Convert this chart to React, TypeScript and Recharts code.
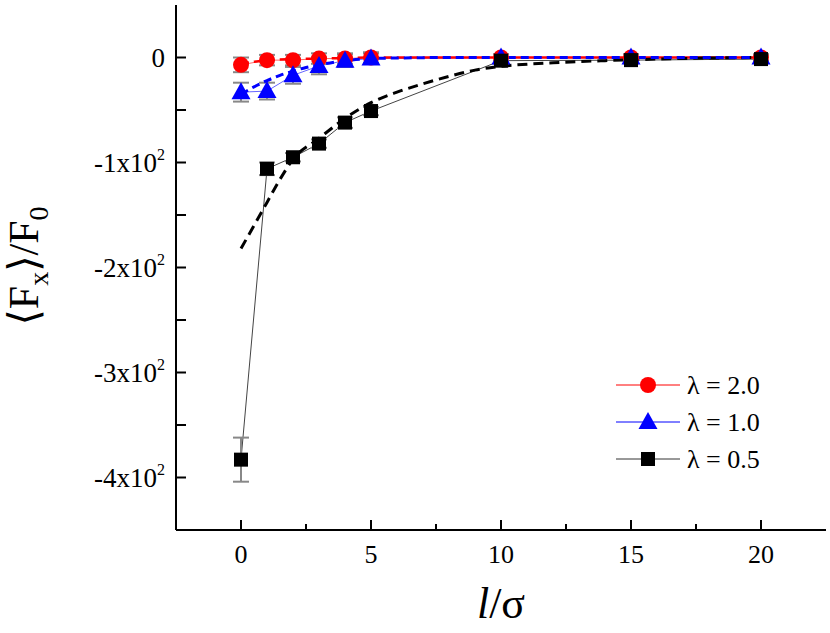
import React from "react";
import {
  ComposedChart,
  Line,
  Scatter,
  XAxis,
  YAxis,
  ErrorBar,
  Legend,
} from "recharts";

const X_VALUES = [0, 1, 2, 3, 4, 5, 10, 15, 20];
const LAMBDA_20 = [-7, -2.5, -2.5, -1, -1, 0, 0, 0, 0];
const ERR_20 = [7, 5, 5, 5, 5, 5, 3, 3, 3];
const LAMBDA_10 = [-33, -32, -17, -8, -3, -1, 0, 0, 0];
const ERR_10 = [9, 8, 8, 8, 6, 5, 3, 3, 3];
const LAMBDA_05 = [-383, -106, -95, -82, -62, -51, -3, -2.5, -1.5];
const ERR_05 = [21, 6, 4, 4, 5, 4, 3, 3, 3];

const FIT_X_05 = [0, 0.5, 1, 1.5, 2, 3, 4, 5, 6, 7, 8, 9, 10, 12, 14, 16, 18, 20];
const FIT_Y_05 = [-182, -160, -138, -116, -97, -77, -58, -43, -33, -25, -18, -12, -8.5, -5, -3, -1.5, -0.5, 0];
const FIT_X_10 = [0, 0.5, 1, 1.5, 2, 2.5, 3, 4, 5, 6, 8, 10, 15, 20];
const FIT_Y_10 = [-35, -28, -22, -17, -13, -9.5, -7, -3, -1, -0.5, 0, 0, 0, 0];
const FIT_X_20 = [0, 0.5, 1, 2, 3, 4, 5, 10, 15, 20];
const FIT_Y_20 = [-6, -4, -2.5, -1.5, -1, -0.5, 0, 0, 0, 0];

const X_TICKS = [0, 2.5, 5, 7.5, 10, 12.5, 15, 17.5, 20];
const Y_TICKS = [-400, -350, -300, -250, -200, -150, -100, -50, 0];
const LEGEND_LABELS = ["λ = 2.0", "λ = 1.0", "λ = 0.5"];

const FONT = "Liberation Serif, DejaVu Serif, serif";

const rows = (ys: number[], errs: number[]) =>
  X_VALUES.map((x, i) => ({ x, y: ys[i], err: errs[i] }));
const fitRows = (xs: number[], ys: number[]) => xs.map((x, i) => ({ x, y: ys[i] }));

const data20 = rows(LAMBDA_20, ERR_20);
const data10 = rows(LAMBDA_10, ERR_10);
const data05 = rows(LAMBDA_05, ERR_05);
const fit05 = fitRows(FIT_X_05, FIT_Y_05);
const fit10 = fitRows(FIT_X_10, FIT_Y_10);
const fit20 = fitRows(FIT_X_20, FIT_Y_20);

const Circle = (p: any) => <circle cx={p.cx} cy={p.cy} r={8} fill="#ff0000" />;
const Tri = (p: any) => (
  <polygon
    points={`${p.cx},${p.cy - 10} ${p.cx - 9.5},${p.cy + 7} ${p.cx + 9.5},${p.cy + 7}`}
    fill="#0000ff"
  />
);
const Square = (p: any) => (
  <rect x={p.cx - 7} y={p.cy - 7} width={14} height={14} fill="#000" />
);
const Empty = () => <g />;

const txt = { fontFamily: FONT, fill: "#000" } as React.CSSProperties;

const BottomTick = (p: any) => {
  const v = p.payload.value;
  const major = v % 5 === 0;
  return (
    <g>
      <line x1={p.x} y1={p.y} x2={p.x} y2={p.y - (major ? 10 : 6)} stroke="#000" strokeWidth={2} />
      {major && (
        <text x={p.x} y={p.y + 33} textAnchor="middle" fontSize={26} style={txt}>
          {v}
        </text>
      )}
    </g>
  );
};
const TopTick = (p: any) => {
  const v = p.payload.value;
  const major = v % 5 === 0;
  return <line x1={p.x} y1={p.y} x2={p.x} y2={p.y + (major ? 10 : 6)} stroke="#000" strokeWidth={2} />;
};
const LeftTick = (p: any) => {
  const v = p.payload.value;
  const major = v % 100 === 0;
  return (
    <g>
      <line x1={p.x} y1={p.y} x2={p.x + 10} y2={p.y} stroke="#000" strokeWidth={2} />
      {major && (
        <text x={p.x - 11} y={p.y + 9} textAnchor="end" fontSize={27} style={txt}>
          {v === 0 ? (
            "0"
          ) : (
            <>
              <tspan>{`${v / 100}x10`}</tspan>
              <tspan fontSize={16} dy={-12}>2</tspan>
            </>
          )}
        </text>
      )}
    </g>
  );
};
const RightTick = (p: any) => (
  <line x1={p.x} y1={p.y} x2={p.x - 10} y2={p.y} stroke="#000" strokeWidth={2} />
);

const YLabel = () => (
  <text
    transform="translate(38, 266) rotate(-90)"
    textAnchor="middle"
    fontSize={42}
    style={txt}
  >
    <tspan>⟨F</tspan>
    <tspan fontSize={28} dy={10}>x</tspan>
    <tspan dy={-10}>⟩/F</tspan>
    <tspan fontSize={28} dy={10}>0</tspan>
  </text>
);
const XLabel = () => (
  <text x={501} y={618} textAnchor="middle" fontSize={44} style={txt}>
    <tspan fontStyle="italic">l</tspan>
    <tspan>/σ</tspan>
  </text>
);

const LegendContent = () => {
  const colors = ["#ff0000", "#0000ff", "#000000"];
  const lineColors = ["#ff0000", "#0000ff", "#333333"];
  return (
    <svg width={220} height={120} style={{ display: "block" }}>
      {LEGEND_LABELS.map((lab, i) => {
        const cy = 20 + i * 37;
        const cx = 48;
        return (
          <g key={lab}>
            <line x1={16} y1={cy} x2={80} y2={cy} stroke={lineColors[i]} strokeWidth={1} />
            {i === 0 && <circle cx={cx} cy={cy} r={8} fill={colors[0]} />}
            {i === 1 && (
              <polygon points={`${cx},${cy - 10} ${cx - 9.5},${cy + 7} ${cx + 9.5},${cy + 7}`} fill={colors[1]} />
            )}
            {i === 2 && <rect x={cx - 7} y={cy - 7} width={14} height={14} fill={colors[2]} />}
            <text x={87} y={cy + 9} fontSize={26} style={txt}>
              {lab}
            </text>
          </g>
        );
      })}
    </svg>
  );
};

export default function App() {
  return (
    <div style={{ position: "absolute", left: 0, top: 0, width: 830, height: 633, background: "#fff", fontFamily: FONT }}>
      <ComposedChart width={830} height={633} margin={{ top: 5, right: 4, bottom: 0, left: 0 }}>
        <XAxis
          xAxisId="b"
          type="number"
          dataKey="x"
          domain={[-2.5, 22.5]}
          ticks={X_TICKS}
          interval={0}
          tickSize={0}
          tickMargin={0}
          tickLine={false}
          tick={BottomTick}
          axisLine={{ stroke: "#000", strokeWidth: 2 }}
          height={103}
          allowDataOverflow
          label={<XLabel />}
        />
        <XAxis
          xAxisId="t"
          orientation="top"
          type="number"
          dataKey="x"
          domain={[-2.5, 22.5]}
          ticks={X_TICKS}
          interval={0}
          tickSize={0}
          tickMargin={0}
          tickLine={false}
          tick={TopTick}
          axisLine={{ stroke: "#000", strokeWidth: 2 }}
          height={0}
          allowDataOverflow
        />
        <YAxis
          yAxisId="l"
          type="number"
          domain={[-450, 50]}
          ticks={Y_TICKS}
          interval={0}
          tickSize={0}
          tickMargin={0}
          tickLine={false}
          tick={LeftTick}
          axisLine={{ stroke: "#000", strokeWidth: 2 }}
          width={176}
          allowDataOverflow
          label={<YLabel />}
        />
        <YAxis
          yAxisId="r"
          orientation="right"
          type="number"
          domain={[-450, 50]}
          ticks={Y_TICKS}
          interval={0}
          tickSize={0}
          tickMargin={0}
          tickLine={false}
          tick={RightTick}
          axisLine={{ stroke: "#000", strokeWidth: 2 }}
          width={0}
          allowDataOverflow
        />
        <Legend
          layout="horizontal"
          verticalAlign="middle"
          align="center"
          content={<LegendContent />}
          wrapperStyle={{ position: "absolute", left: 600, top: 365, width: 220, height: 120 }}
        />

        <Line xAxisId="b" yAxisId="l" data={data20} dataKey="y" stroke="#ff6666" strokeWidth={1} dot={false} isAnimationActive={false} legendType="none" />
        <Scatter xAxisId="b" yAxisId="l" data={data20} dataKey="y" shape={Circle} isAnimationActive={false} legendType="none" />
        <Line xAxisId="b" yAxisId="l" data={data10} dataKey="y" stroke="#6666ff" strokeWidth={1} dot={false} isAnimationActive={false} legendType="none" />
        <Scatter xAxisId="b" yAxisId="l" data={data10} dataKey="y" shape={Tri} isAnimationActive={false} legendType="none" />
        <Line xAxisId="b" yAxisId="l" data={data05} dataKey="y" stroke="#444" strokeWidth={1} dot={false} isAnimationActive={false} legendType="none" />
        <Scatter xAxisId="b" yAxisId="l" data={data05} dataKey="y" shape={Square} isAnimationActive={false} legendType="none" />

        <Scatter xAxisId="b" yAxisId="l" data={data20} dataKey="y" shape={Empty} isAnimationActive={false} legendType="none">
          <ErrorBar dataKey="err" direction="y" width={8} stroke="#888" strokeWidth={2} />
        </Scatter>
        <Scatter xAxisId="b" yAxisId="l" data={data10} dataKey="y" shape={Empty} isAnimationActive={false} legendType="none">
          <ErrorBar dataKey="err" direction="y" width={8} stroke="#888" strokeWidth={2} />
        </Scatter>
        <Scatter xAxisId="b" yAxisId="l" data={data05} dataKey="y" shape={Empty} isAnimationActive={false} legendType="none">
          <ErrorBar dataKey="err" direction="y" width={8} stroke="#888" strokeWidth={2} />
        </Scatter>

        <Line xAxisId="b" yAxisId="l" data={fit20} dataKey="y" type="monotone" stroke="#ff0000" strokeWidth={2.5} strokeDasharray="8 5" dot={false} isAnimationActive={false} legendType="none" />
        <Line xAxisId="b" yAxisId="l" data={fit05} dataKey="y" type="monotone" stroke="#000" strokeWidth={3} strokeDasharray="10 6" dot={false} isAnimationActive={false} legendType="none" />
        <Line xAxisId="b" yAxisId="l" data={fit10} dataKey="y" type="monotone" stroke="#0000ff" strokeWidth={3} strokeDasharray="8 5" dot={false} isAnimationActive={false} legendType="none" />
      </ComposedChart>
    </div>
  );
}
